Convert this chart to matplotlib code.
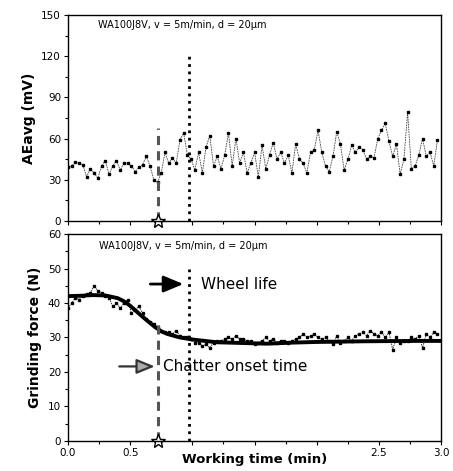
import numpy as np
import matplotlib
matplotlib.use("Agg")
import matplotlib.pyplot as plt
from matplotlib.ticker import MultipleLocator

# working time grid (min), 100 samples
time = np.linspace(0, 2.97, 100)

ae_avg = [39, 40, 43, 42, 41, 32, 38, 35, 31, 40,
          44, 34, 40, 44, 37, 42, 42, 40, 36, 39,
          41, 47, 40, 30, 28, 35, 50, 42, 46, 42,
          59, 64, 48, 45, 37, 50, 35, 54, 62, 40,
          47, 38, 48, 64, 40, 60, 42, 50, 35, 42,
          50, 32, 55, 38, 48, 57, 45, 50, 42, 48,
          35, 56, 45, 42, 35, 50, 52, 66, 50, 40,
          36, 47, 65, 56, 37, 45, 55, 50, 54, 52,
          45, 47, 46, 60, 66, 71, 58, 47, 56, 34,
          45, 79, 38, 40, 48, 60, 47, 50, 40, 59]

force = [38.5, 40, 41.5, 41, 42, 42.5, 43, 45, 43.5, 43,
         42, 41.5, 39, 40, 38.5, 40, 41, 37, 38, 39,
         37, 35.5, 34.5, 34, 33, 32, 31.5, 31.5, 31, 32,
         30.5, 30, 30, 29.5, 28.5, 28.5, 27.5, 28, 27, 28.5,
         29, 29, 29.5, 30, 29.5, 30.5, 29.5, 29.5, 29, 29,
         28, 28.5, 29, 30, 29, 29.5, 28.5, 29, 29, 28.5,
         29, 29.5, 30, 31, 30, 30.5, 31, 30, 29.5, 30,
         29, 28, 30.5, 28.5, 29, 30, 29, 30.5, 31, 31.5,
         30.5, 32, 31, 30.5, 31.5, 30, 31.5, 26.5, 30, 28.5,
         29, 29, 30, 29.5, 30.5, 27, 31, 30, 31.5, 31]

fit_t = [0.0, 0.1, 0.2, 0.3, 0.4, 0.45, 0.5, 0.55, 0.6, 0.65, 0.7, 0.75,
         0.8, 0.9, 1.0, 1.1, 1.2, 1.4, 1.6, 1.8, 2.0, 2.4, 2.8, 3.0]
fit_f = [42.0, 42.1, 42.3, 42.2, 41.4, 40.5, 39.2, 37.6, 36.0, 34.5, 33.0, 31.8,
         31.0, 30.0, 29.4, 29.0, 28.6, 28.4, 28.2, 28.5, 28.7, 28.9, 29.0, 29.0]

chatter_t = 0.72
life_t = 0.97
label = "WA100J8V, v = 5m/min, d = 20μm"

fig = plt.figure(figsize=(4.53, 4.71), dpi=100)
ax1 = fig.add_axes([0.150, 0.531, 0.824, 0.437])
ax2 = fig.add_axes([0.150, 0.064, 0.824, 0.439])

# top: AE signal
ax1.plot(time, ae_avg, ls=(0, (2, 1)), lw=0.6, color="#444444",
         marker="s", ms=1.5, mfc="k", mec="k")
ax1.plot([chatter_t, chatter_t], [0, 68], ls=(0, (3, 2)), lw=2.2, color="#555555")
ax1.plot([life_t, life_t], [0, 120], ls=":", lw=2, color="k")
ax1.plot([chatter_t], [0], marker="*", ms=10, mfc="white", mec="k", mew=1, clip_on=False)
ax1.text(0.24, 143, label, fontsize=7, va="center")
ax1.set_xlim(0, 3.0)
ax1.set_ylim(0, 150)
ax1.yaxis.set_major_locator(MultipleLocator(30))
ax1.yaxis.set_minor_locator(MultipleLocator(15))
ax1.xaxis.set_major_locator(MultipleLocator(0.5))
ax1.xaxis.set_minor_locator(MultipleLocator(0.25))
ax1.set_xticklabels([])
ax1.set_ylabel("AEavg (mV)", fontsize=10, fontweight="bold")

# bottom: grinding force
ax2.plot(time, force, ls=(0, (1.5, 1)), lw=0.7, color="#333333",
         marker="s", ms=1.5, mfc="k", mec="k")
ax2.plot(fit_t, fit_f, color="k", lw=2.8)
ax2.plot([chatter_t, chatter_t], [0, 34], ls=(0, (3, 2)), lw=2.2, color="#555555")
ax2.plot([life_t, life_t], [0, 50], ls=":", lw=2, color="k")
ax2.plot([chatter_t], [0], marker="*", ms=10, mfc="white", mec="k", mew=1, clip_on=False)
ax2.annotate("", xy=(0.95, 45.5), xytext=(0.64, 45.5),
             arrowprops=dict(arrowstyle="-|>,head_length=1.2,head_width=0.5",
                             lw=2, color="k"))
ax2.text(1.07, 45.5, "Wheel life", fontsize=11, va="center")
ax2.annotate("", xy=(0.72, 21.6), xytext=(0.39, 21.6),
             arrowprops=dict(arrowstyle="-|>,head_length=1.1,head_width=0.45",
                             lw=1.6, fc="#aaaaaa", ec="#333333"))
ax2.text(0.76, 21.6, "Chatter onset time", fontsize=11, va="center")
ax2.text(0.25, 56.5, label, fontsize=7, va="center")
ax2.set_xlim(0, 3.0)
ax2.set_ylim(0, 60)
ax2.yaxis.set_major_locator(MultipleLocator(10))
ax2.yaxis.set_minor_locator(MultipleLocator(5))
ax2.xaxis.set_minor_locator(MultipleLocator(0.25))
ax2.set_xticks([0, 0.5, 1.0, 1.5, 2.0, 2.5, 3.0])
ax2.set_xticklabels(["0.0", "0.5", "", "", "", "2.5", "3.0"])
ax2.set_ylabel("Grinding force (N)", fontsize=10, fontweight="bold")
ax2.set_xlabel("Working time (min)", fontsize=9.5, fontweight="bold")
ax2.xaxis.set_label_coords(0.5, -0.06)

for ax in (ax1, ax2):
    ax.tick_params(which="both", direction="out", labelsize=7.5, width=0.8, pad=2)
    ax.tick_params(which="major", length=3)
    ax.tick_params(which="minor", length=2)
    for s in ax.spines.values():
        s.set_linewidth(1)

fig.savefig("out.png", dpi=100)
